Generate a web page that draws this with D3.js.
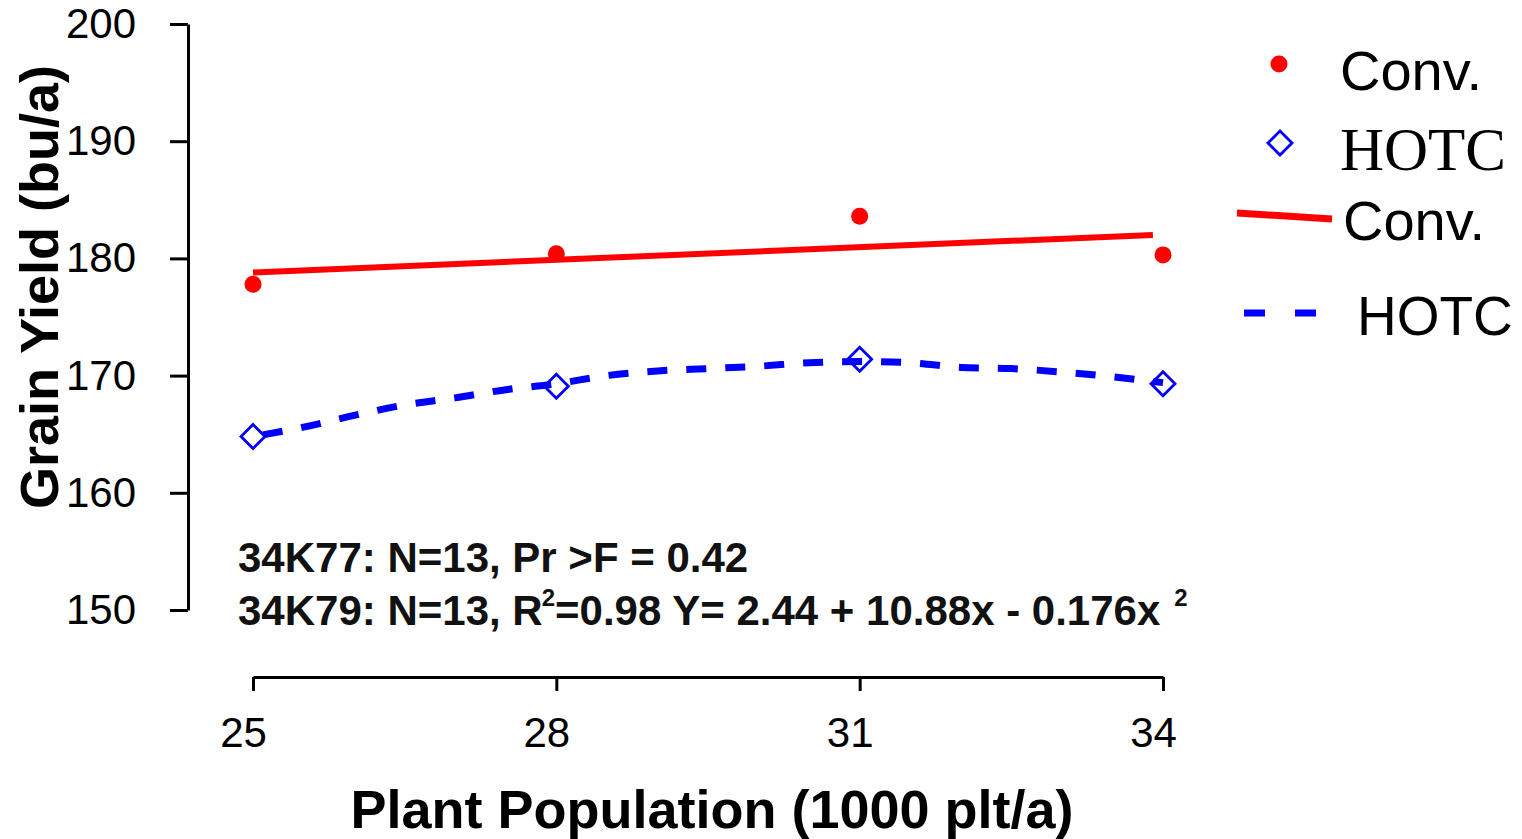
<!DOCTYPE html>
<html><head><meta charset="utf-8">
<script src="https://cdn.jsdelivr.net/npm/d3@7"></script>
<style>body{margin:0;background:#fff}svg{display:block}</style>
</head><body>
<script>
const populations = [25, 28, 31, 34];
const convYield = [177.8, 180.4, 183.6, 180.3];
const hotcYield = [164.8, 169.1, 171.4, 169.3];
const convFitX = [25, 33.9];
const convFitY = [178.8, 182.0];
const hotcCurveX = [25, 25.5, 26, 26.5, 27, 27.5, 28, 28.5, 29, 29.5, 30, 30.5, 31, 31.5, 32, 32.5, 33, 33.5, 34];
const hotcCurveY = [164.8, 165.6, 166.6, 167.5, 168.1, 168.8, 169.3, 170.0, 170.4, 170.6, 170.8, 171.1, 171.2, 171.1, 170.7, 170.6, 170.3, 169.9, 169.4];
const yTicks = [150, 160, 170, 180, 190, 200];
const xTicks = [25, 28, 31, 34];

const W = 1522, H = 839;
const svg = d3.select("body").append("svg").attr("width", W).attr("height", H);
const x = d3.scaleLinear().domain([25, 34]).range([253, 1163]);
const y = d3.scaleLinear().domain([150, 200]).range([610, 24]);
const font = "Liberation Sans, Arial, sans-serif";

// Y axis
const yAxis = svg.append("g").attr("transform", "translate(188,0)")
  .call(d3.axisLeft(y).tickValues(yTicks).tickSize(18).tickSizeOuter(0).tickPadding(34));
yAxis.select(".domain").attr("stroke", "#000").attr("stroke-width", 3);
yAxis.selectAll(".tick line").attr("stroke", "#000").attr("stroke-width", 3);
yAxis.selectAll(".tick text").attr("font-family", font).attr("font-size", 42).attr("fill", "#000");

// X axis
const xAxis = svg.append("g").attr("transform", "translate(0,677)")
  .call(d3.axisBottom(x).tickValues(xTicks).tickSize(14).tickSizeOuter(0).tickPadding(26));
xAxis.select(".domain").attr("stroke", "#000").attr("stroke-width", 3);
xAxis.selectAll(".tick line").attr("stroke", "#000").attr("stroke-width", 3);
xAxis.selectAll(".tick text").attr("font-family", font).attr("font-size", 42).attr("fill", "#000").attr("dx", -10);

// Axis titles
svg.append("text").attr("transform", "translate(58,287) rotate(-90)")
  .attr("text-anchor", "middle").attr("font-family", font).attr("font-weight", "bold")
  .attr("font-size", 54).text("Grain Yield (bu/a)");
svg.append("text").attr("x", 712).attr("y", 828)
  .attr("text-anchor", "middle").attr("font-family", font).attr("font-weight", "bold")
  .attr("font-size", 54).text("Plant Population (1000 plt/a)");

// Conv regression line
const line = d3.line().x(d => x(d[0])).y(d => y(d[1]));
svg.append("path").datum(convFitX.map((v, i) => [v, convFitY[i]]))
  .attr("d", line).attr("fill", "none").attr("stroke", "#ff0000").attr("stroke-width", 6);

// HOTC curve
svg.append("path").datum(hotcCurveX.map((v, i) => [v, hotcCurveY[i]]))
  .attr("d", d3.line().x(d => x(d[0])).y(d => y(d[1])).curve(d3.curveMonotoneX))
  .attr("fill", "none").attr("stroke", "#0000ff").attr("stroke-width", 7)
  .attr("stroke-dasharray", "20 19").attr("stroke-dashoffset", -10);

// Conv points
svg.selectAll(".conv").data(populations).enter().append("circle")
  .attr("cx", d => x(d)).attr("cy", (d, i) => y(convYield[i])).attr("r", 8.5).attr("fill", "#ff0000");

// HOTC diamonds
const dsz = 12;
svg.selectAll(".hotc").data(populations).enter().append("path")
  .attr("d", (d, i) => {
    const cx = x(d), cy = y(hotcYield[i]);
    return `M${cx},${cy - dsz}L${cx + dsz},${cy}L${cx},${cy + dsz}L${cx - dsz},${cy}Z`;
  })
  .attr("fill", "none").attr("stroke", "#0000ff").attr("stroke-width", 2.8);

// Annotation
svg.append("text").attr("x", 238).attr("y", 572).attr("font-family", font).attr("font-weight", "bold")
  .attr("font-size", 42).attr("fill", "#111").text("34K77: N=13, Pr >F = 0.42");
const t2 = svg.append("text").attr("x", 238).attr("y", 625).attr("font-family", font).attr("font-weight", "bold")
  .attr("font-size", 42).attr("fill", "#111");
t2.append("tspan").text("34K79: N=13, R");
t2.append("tspan").attr("font-size", 24).attr("dy", -19).attr("dx", -1).text("2");
t2.append("tspan").attr("dy", 19).attr("dx", 0).text("=0.98 Y= 2.44 + 10.88x - 0.176x");
t2.append("tspan").attr("font-size", 24).attr("dy", -19).attr("dx", 14).text("2");

// Legend
const lg = svg.append("g");
lg.append("circle").attr("cx", 1279).attr("cy", 64).attr("r", 8.5).attr("fill", "#ff0000");
lg.append("text").attr("x", 1340).attr("y", 90).attr("font-family", font).attr("font-size", 56).text("Conv.");
lg.append("path").attr("d", `M1280,${143 - dsz}L${1280 + dsz},143L1280,${143 + dsz}L${1280 - dsz},143Z`)
  .attr("fill", "none").attr("stroke", "#0000ff").attr("stroke-width", 2.8);
lg.append("text").attr("x", 1340).attr("y", 170).attr("font-family", "Liberation Serif, Times New Roman, serif")
  .attr("font-size", 61).text("HOTC");
lg.append("line").attr("x1", 1237).attr("y1", 213).attr("x2", 1332).attr("y2", 219)
  .attr("stroke", "#ff0000").attr("stroke-width", 7);
lg.append("text").attr("x", 1343).attr("y", 240).attr("font-family", font).attr("font-size", 56).text("Conv.");
lg.append("line").attr("x1", 1244).attr("y1", 313).attr("x2", 1316).attr("y2", 313)
  .attr("stroke", "#0000ff").attr("stroke-width", 7).attr("stroke-dasharray", "21 30");
lg.append("text").attr("x", 1357).attr("y", 335).attr("font-family", font).attr("font-size", 55).text("HOTC");
</script>
</body></html>
